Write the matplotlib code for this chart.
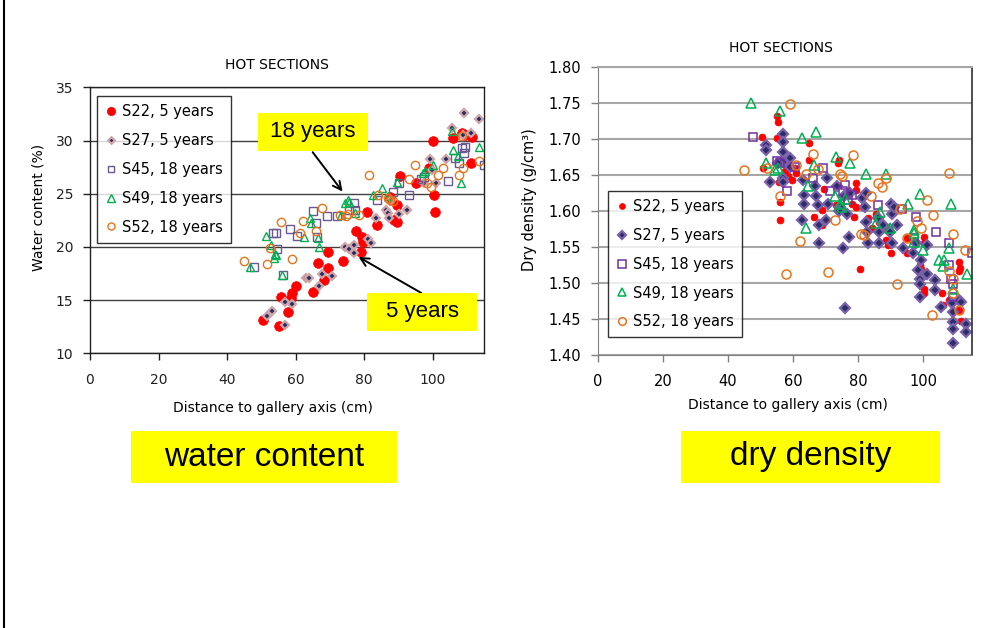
import matplotlib
matplotlib.use("Agg")
import matplotlib.pyplot as plt
from matplotlib.patches import Rectangle
from matplotlib.lines import Line2D

plt.rcParams["font.family"] = ["DejaVu Sans"]

W, H = 1006, 628

# ---- water content (%) vs distance (cm) ----
wc_s22 = [(50.6, 13.1), (55.1, 12.6), (55.8, 15.3), (57.8, 13.9), (58.7, 15.2), (59.0, 15.7),
          (60.2, 16.3), (65.0, 15.8), (66.5, 18.5), (68.2, 16.9), (69.4, 18.0), (69.6, 19.5),
          (73.8, 18.7), (77.6, 21.5), (79.3, 20.9), (79.8, 20.5), (79.1, 19.5), (80.9, 23.3),
          (83.9, 22.1), (87.7, 24.7), (88.8, 22.5), (89.6, 22.3), (89.6, 23.9), (90.6, 26.7),
          (95.1, 26.0), (98.9, 27.4), (100.0, 30.0), (100.4, 24.9), (100.7, 23.3), (106.0, 30.2),
          (108.7, 30.7), (111.1, 27.9), (111.5, 30.3), (109.5, 30.5)]
wc_s27 = [(51.6, 13.5), (53.2, 14.0), (57.0, 12.7), (56.8, 14.8), (58.9, 14.6), (63.1, 17.1),
          (63.8, 17.1), (66.8, 16.3), (67.8, 17.5), (70.6, 17.3), (74.3, 20.0), (75.5, 19.8),
          (77.0, 20.2), (77.0, 19.4), (81.2, 20.7), (82.1, 20.4), (83.5, 22.7), (86.4, 23.5),
          (86.9, 23.2), (87.2, 22.7), (87.7, 24.3), (90.3, 23.1), (92.5, 23.5), (97.4, 26.0),
          (99.2, 28.3), (99.7, 27.2), (101.0, 26.0), (103.9, 28.3), (105.8, 31.2), (109.0, 30.5),
          (109.2, 32.6), (111.2, 30.7), (113.4, 32.0)]
wc_s45 = [(47.8, 18.1), (53.4, 21.3), (54.4, 21.3), (54.7, 19.8), (56.3, 17.4), (58.5, 21.7),
          (60.5, 21.0), (65.2, 23.4), (65.9, 22.2), (66.2, 20.9), (69.2, 22.9), (72.0, 22.9),
          (75.5, 23.5), (77.2, 24.1), (77.4, 23.5), (83.8, 24.4), (88.3, 25.2), (90.3, 26.0),
          (93.2, 24.9), (96.6, 26.4), (97.6, 26.6), (104.5, 26.2), (106.6, 28.4), (107.6, 27.9),
          (108.5, 29.3), (109.5, 29.4), (109.2, 28.8), (114.9, 27.7)]
wc_s49 = [(46.8, 18.1), (51.3, 21.0), (52.9, 20.2), (53.9, 19.3), (54.4, 19.2), (53.6, 19.0),
          (56.1, 17.4), (62.6, 20.9), (64.1, 22.7), (64.6, 22.2), (66.5, 20.8), (66.8, 20.0),
          (73.3, 23.0), (74.3, 24.1), (75.2, 24.4), (75.7, 24.2), (77.4, 23.2), (82.5, 24.9),
          (85.2, 25.5), (86.9, 24.8), (89.6, 26.1), (97.1, 26.9), (97.9, 27.1), (100.0, 27.7),
          (105.6, 30.9), (106.0, 29.1), (107.5, 28.5), (108.3, 26.0), (113.4, 29.4)]
wc_s52 = [(45.0, 18.7), (51.7, 18.4), (52.4, 19.9), (55.8, 22.3), (59.0, 18.9), (61.2, 21.3),
          (62.2, 22.4), (66.0, 21.5), (67.7, 23.7), (73.1, 23.0), (74.8, 22.9), (75.2, 23.1),
          (78.6, 23.0), (81.3, 26.8), (84.0, 24.9), (86.9, 24.6), (87.6, 24.4), (88.3, 24.3),
          (93.2, 26.4), (94.9, 27.7), (98.5, 26.0), (99.5, 25.6), (101.5, 26.8), (103.1, 27.4),
          (107.6, 26.8), (108.9, 27.4), (108.7, 30.4), (113.4, 28.1)]

# ---- dry density (g/cm3) vs distance (cm) ----
dd_s22 = [(50.5, 1.703), (50.6, 1.660), (55.1, 1.732), (55.2, 1.723), (55.1, 1.701), (55.9, 1.612),
          (55.9, 1.587), (55.7, 1.640), (57.5, 1.655), (58.5, 1.648), (59.5, 1.643), (60.5, 1.659),
          (61.0, 1.652), (64.9, 1.694), (64.9, 1.670), (66.5, 1.592), (68.9, 1.601), (69.0, 1.580),
          (69.4, 1.631), (73.8, 1.666), (74.1, 1.671), (73.2, 1.608), (76.5, 1.625), (78.0, 1.610),
          (79.2, 1.638), (79.4, 1.629), (79.3, 1.606), (78.8, 1.592), (80.6, 1.520), (81.5, 1.605),
          (83.0, 1.590), (84.3, 1.576), (85.5, 1.595), (86.5, 1.585), (88.4, 1.578), (88.6, 1.560),
          (89.0, 1.552), (90.1, 1.541), (95.0, 1.541), (95.0, 1.562), (98.8, 1.525), (99.3, 1.520),
          (100.1, 1.564), (100.3, 1.555), (100.1, 1.492), (100.3, 1.486), (105.8, 1.486), (105.9, 1.470),
          (108.0, 1.477), (110.9, 1.529), (111.0, 1.516), (111.4, 1.447), (110.8, 1.462), (111.3, 1.521)]
dd_s27 = [(51.8, 1.691), (51.8, 1.684), (53.0, 1.640), (56.9, 1.707), (56.9, 1.696), (56.9, 1.682),
          (56.9, 1.668), (56.9, 1.645), (55.4, 1.666), (58.9, 1.673), (58.9, 1.661), (56.9, 1.640),
          (63.0, 1.643), (63.3, 1.622), (63.3, 1.610), (62.8, 1.587), (66.6, 1.634), (67.1, 1.620),
          (67.6, 1.608), (67.9, 1.580), (67.9, 1.556), (70.4, 1.645), (70.7, 1.610), (70.2, 1.587),
          (75.3, 1.548), (75.8, 1.465), (77.3, 1.564), (74.5, 1.605), (75.5, 1.620), (73.5, 1.635),
          (74.0, 1.600), (76.5, 1.595), (77.5, 1.625), (81.0, 1.618), (82.0, 1.605), (82.5, 1.585),
          (82.8, 1.570), (83.0, 1.556), (82.5, 1.625), (86.0, 1.590), (86.5, 1.570), (86.3, 1.556),
          (87.5, 1.580), (90.0, 1.610), (90.5, 1.595), (89.8, 1.570), (90.2, 1.555), (91.0, 1.605),
          (92.0, 1.580), (93.7, 1.548), (96.7, 1.541), (97.8, 1.555), (98.3, 1.518), (98.8, 1.506),
          (98.8, 1.499), (98.8, 1.481), (99.3, 1.532), (101.0, 1.513), (101.0, 1.553), (103.4, 1.504),
          (103.4, 1.490), (105.4, 1.467), (108.8, 1.472), (109.0, 1.460), (109.2, 1.446), (109.2, 1.436),
          (109.2, 1.417), (111.0, 1.476), (111.5, 1.473), (113.1, 1.443), (113.1, 1.432)]
dd_s45 = [(47.7, 1.702), (55.0, 1.669), (56.0, 1.666), (58.2, 1.627), (60.5, 1.661), (66.1, 1.645),
          (69.2, 1.660), (71.2, 1.627), (75.3, 1.627), (75.8, 1.636), (76.8, 1.615), (78.0, 1.622),
          (86.0, 1.608), (93.5, 1.603), (97.8, 1.592), (97.0, 1.562), (103.9, 1.571), (108.0, 1.555),
          (108.0, 1.525), (108.5, 1.506), (109.0, 1.499), (109.2, 1.480), (114.8, 1.542)]
dd_s49 = [(47.0, 1.749), (55.9, 1.739), (51.8, 1.666), (54.3, 1.657), (55.5, 1.660), (62.8, 1.701),
          (66.9, 1.710), (66.3, 1.664), (64.5, 1.635), (64.0, 1.576), (73.2, 1.675), (77.5, 1.666),
          (73.0, 1.620), (74.5, 1.610), (75.1, 1.606), (75.8, 1.617), (82.4, 1.651), (85.5, 1.583),
          (86.7, 1.599), (88.4, 1.651), (89.6, 1.576), (95.2, 1.610), (97.2, 1.574), (97.2, 1.569),
          (97.0, 1.557), (99.0, 1.624), (99.8, 1.546), (104.9, 1.532), (105.9, 1.523), (106.4, 1.532),
          (107.8, 1.548), (108.5, 1.610), (109.0, 1.492), (113.3, 1.513)]
dd_s52 = [(45.0, 1.657), (52.1, 1.660), (58.9, 1.748), (56.1, 1.621), (57.9, 1.512), (61.0, 1.664),
          (62.0, 1.558), (64.0, 1.651), (66.1, 1.679), (67.6, 1.658), (70.7, 1.515), (72.9, 1.587),
          (74.5, 1.651), (75.1, 1.648), (78.3, 1.678), (80.9, 1.568), (81.9, 1.566), (83.9, 1.620),
          (86.0, 1.638), (87.3, 1.633), (88.6, 1.645), (91.8, 1.499), (92.8, 1.603), (95.0, 1.562),
          (98.0, 1.586), (99.3, 1.576), (101.0, 1.615), (102.7, 1.455), (102.9, 1.594), (108.0, 1.652),
          (108.0, 1.516), (109.0, 1.506), (109.0, 1.568), (111.0, 1.462), (112.9, 1.546), (109.0, 1.486)]

labels = ["S22, 5 years", "S27, 5 years", "S45, 18 years", "S49, 18 years", "S52, 18 years"]
xticks = [0, 20, 40, 60, 80, 100]
wc_ticks = [10, 15, 20, 25, 30, 35]
dd_ticks = [1.40, 1.45, 1.50, 1.55, 1.60, 1.65, 1.70, 1.75, 1.80]

# marker styles (left chart, right chart)
styles_wc = [
    dict(marker="o", ms=7.0, mfc="#FF0000", mec="#FF0000", mew=0.5),
    dict(marker="D", ms=4.0, mfc="#1F2F5F", mec="#D0A4A8", mew=1.6),
    dict(marker="s", ms=5.5, mfc="none", mec="#6A5890", mew=1.0),
    dict(marker="^", ms=6.0, mfc="none", mec="#00B050", mew=1.0),
    dict(marker="o", ms=6.0, mfc="none", mec="#E8741E", mew=1.0),
]
styles_dd = [
    dict(marker="o", ms=5.0, mfc="#FF0000", mec="#FF0000", mew=0.5),
    dict(marker="D", ms=4.8, mfc="#2B2D66", mec="#7A62AA", mew=1.6),
    dict(marker="s", ms=6.0, mfc="none", mec="#7030A0", mew=1.1),
    dict(marker="^", ms=6.5, mfc="none", mec="#00B050", mew=1.1),
    dict(marker="o", ms=6.5, mfc="none", mec="#E8741E", mew=1.1),
]

fig = plt.figure(figsize=(W / 100, H / 100), dpi=100)
fig.patch.set_facecolor("white")


def px_axes(x0, y0, x1, y1):
    return fig.add_axes([x0 / W, 1 - y1 / H, (x1 - x0) / W, (y1 - y0) / H])


def yellow_box(x0, y0, x1, y1, text, size):
    fig.add_artist(Rectangle((x0 / W, 1 - y1 / H), (x1 - x0) / W, (y1 - y0) / H,
                             transform=fig.transFigure, facecolor="#FFFF00", edgecolor="none", zorder=5))
    fig.text((x0 + x1) / 2 / W, 1 - (y0 + y1) / 2 / H, text, ha="center", va="center",
             fontsize=size, family="Liberation Sans", color="black", zorder=6)


def legend(ax, anchor):
    leg = ax.legend(loc="upper left", bbox_to_anchor=anchor, borderaxespad=0,
                    fontsize=10.5, frameon=True, fancybox=False, edgecolor="black",
                    handlelength=0.8, handletextpad=0.35, labelspacing=0.95, borderpad=0.55,
                    markerscale=0.85)
    leg.get_frame().set_linewidth(1.0)


# ---------- left: water content ----------
ax1 = px_axes(90, 87.3, 484, 353.3)
for data, lab, st in zip([wc_s22, wc_s27, wc_s45, wc_s49, wc_s52], labels, styles_wc):
    xs, ys = zip(*data)
    ax1.plot(xs, ys, ls="none", label=lab, **st)
ax1.set_xlim(0, 115)
ax1.set_ylim(10, 35)
ax1.set_xticks(xticks)
ax1.set_yticks(wc_ticks)
ax1.yaxis.grid(True, color="#404040", lw=1.0)
ax1.set_axisbelow(True)
for s in ax1.spines.values():
    s.set_color("#202020")
    s.set_linewidth(1.0)
ax1.tick_params(direction="out", length=5, width=1, labelsize=10, pad=7, colors="#202020")
ax1.tick_params(axis="x", pad=9)
ax1.set_xlabel("Distance to gallery axis (cm)", fontsize=10)
ax1.set_ylabel("Water content (%)", fontsize=10)
ax1.xaxis.set_label_coords(0.464, -0.18)
ax1.yaxis.set_label_coords(-0.114, 0.55)
legend(ax1, (0.018, 0.967))
ax1.annotate("", xy=(73.7, 25.2), xytext=(65.0, 28.9),
             arrowprops=dict(arrowstyle="->,head_length=0.6,head_width=0.3", color="black",
                             lw=1.4, shrinkA=0, shrinkB=0))
ax1.annotate("", xy=(78.4, 19.05), xytext=(96.7, 15.67),
             arrowprops=dict(arrowstyle="->,head_length=0.6,head_width=0.3", color="black",
                             lw=1.4, shrinkA=0, shrinkB=0))
fig.text(277 / W, 1 - 65 / H, "HOT SECTIONS", ha="center", va="center", fontsize=10)

# ---------- right: dry density ----------
ax2 = px_axes(597.7, 66.7, 972.3, 355)
for data, lab, st in zip([dd_s22, dd_s27, dd_s45, dd_s49, dd_s52], labels, styles_dd):
    xs, ys = zip(*data)
    ax2.plot(xs, ys, ls="none", label=lab, **st)
ax2.set_xlim(0, 115)
ax2.set_ylim(1.40, 1.80)
ax2.set_xticks(xticks)
ax2.set_yticks(dd_ticks)
ax2.set_yticklabels([f"{v:.2f}" for v in dd_ticks])
ax2.yaxis.grid(True, color="#A6A6A6", lw=1.5)
ax2.set_axisbelow(True)
ax2.spines["left"].set_color("#808080")
ax2.spines["bottom"].set_color("#808080")
ax2.spines["top"].set_color("#A6A6A6")
ax2.spines["top"].set_linewidth(1.5)
ax2.spines["right"].set_color("#303030")
ax2.spines["right"].set_linewidth(1.2)
ax2.tick_params(direction="out", length=5, width=1, labelsize=10.5, pad=7, colors="#808080",
                labelcolor="black")
ax2.tick_params(axis="x", pad=9)
ax2.set_xlabel("Distance to gallery axis (cm)", fontsize=10)
ax2.set_ylabel("Dry density (g/cm³)", fontsize=10.5)
ax2.xaxis.set_label_coords(0.509, -0.149)
ax2.yaxis.set_label_coords(-0.163, 0.538)
legend(ax2, (0.0275, 0.569))
fig.text(781 / W, 1 - 48 / H, "HOT SECTIONS", ha="center", va="center", fontsize=10)

# annotation boxes and slide labels
yellow_box(258, 113, 368, 151, "18 years", 16)
yellow_box(367, 293, 477, 331, "5 years", 16)
yellow_box(131, 431, 397, 483, "water content", 24)
yellow_box(681, 431, 940, 483, "dry density", 24)

# slide edge on the left
fig.add_artist(Line2D([3.5 / W, 3.5 / W], [0, 1], transform=fig.transFigure, color="black", lw=1.5))

fig.savefig("out.png", dpi=100)
